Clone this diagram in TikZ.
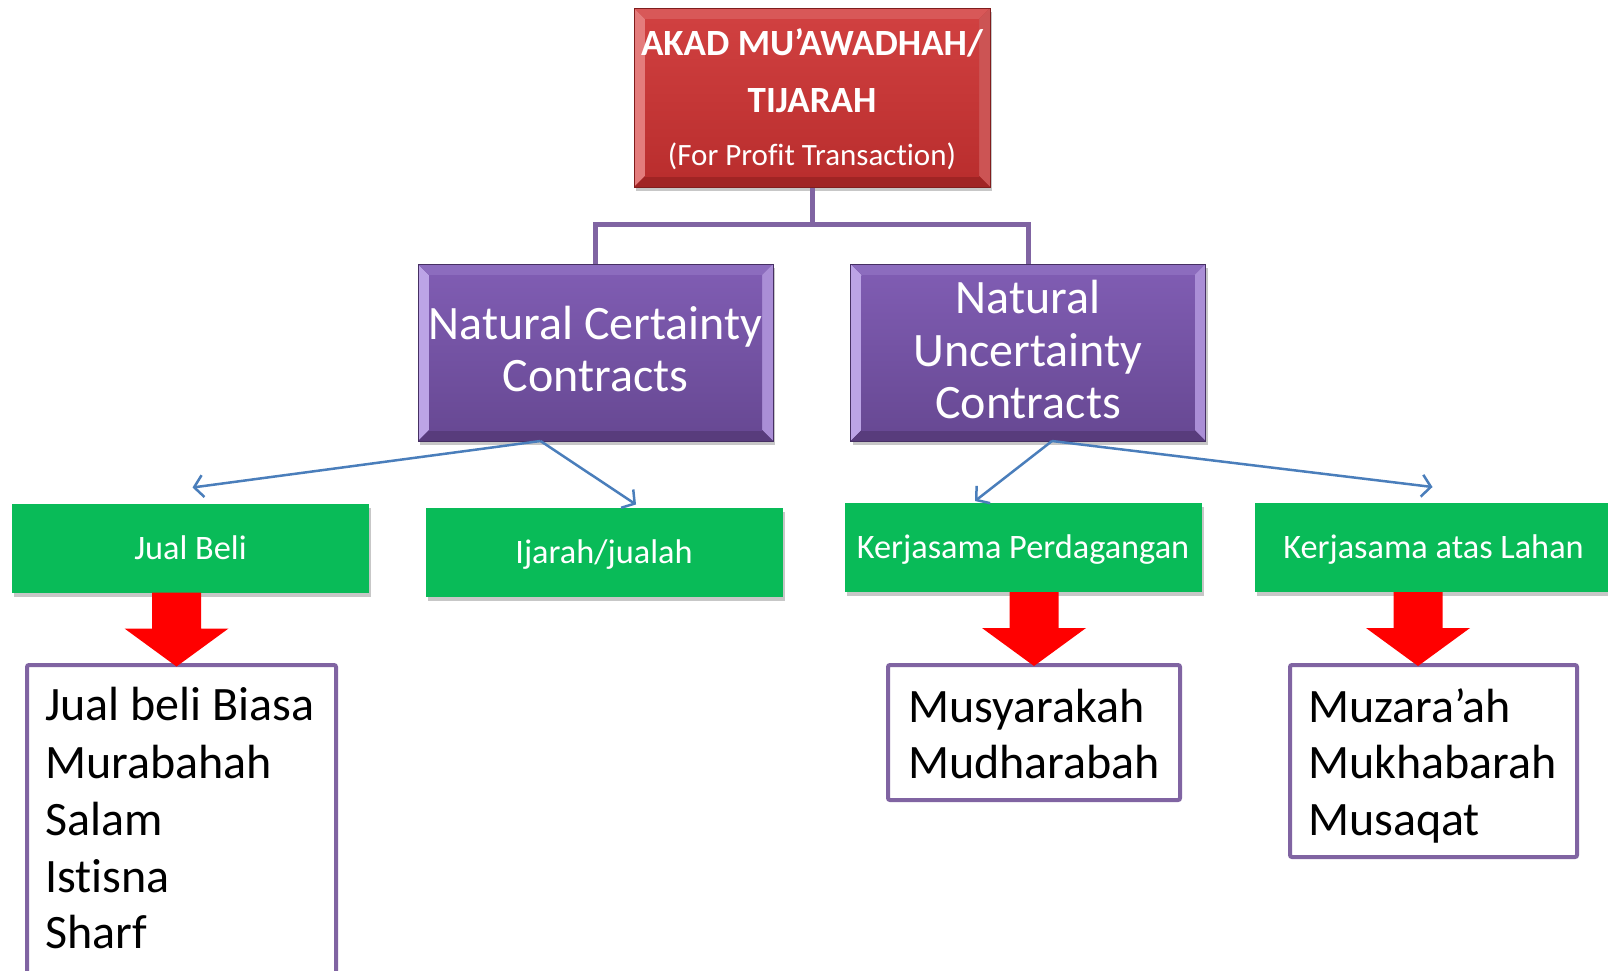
\documentclass[tikz,border=0pt]{standalone}
\usepackage{fontspec}
\setmainfont{Carlito}[Ligatures=NoCommon]
\usetikzlibrary{arrows.meta,calc,shadows}

% palette
\definecolor{linkpurple}{RGB}{128,100,162}
\definecolor{arrowblue}{RGB}{74,126,187}
\definecolor{leafgreen}{RGB}{9,187,88}
\definecolor{blockred}{RGB}{255,0,0}
% red heading box
\definecolor{rfacetop}{RGB}{208,64,64}
\definecolor{rfacebot}{RGB}{186,46,46}
\definecolor{redge}{RGB}{140,28,28}
\definecolor{rlight}{RGB}{228,124,124}
\definecolor{rtop}{RGB}{216,88,88}
\definecolor{rright}{RGB}{204,84,84}
\definecolor{rbottom}{RGB}{160,36,36}
% purple category boxes
\definecolor{pfacetop}{RGB}{127,92,178}
\definecolor{pfacebot}{RGB}{104,73,148}
\definecolor{pedge}{RGB}{72,48,108}
\definecolor{plight}{RGB}{188,164,230}
\definecolor{ptop}{RGB}{140,108,190}
\definecolor{pright}{RGB}{170,142,214}
\definecolor{pbottom}{RGB}{88,60,124}

% bevelled face over a rectangular node:
% #1 node, #2 bevel depth, #3 left, #4 top, #5 right, #6 bottom, #7 face top, #8 face bottom
\newcommand\bevelface[8]{%
  \fill[#3] (#1.north west) -- ($(#1.north west)+(#2,#2)$) -- ($(#1.south west)+(#2,-#2)$) -- (#1.south west) -- cycle;
  \fill[#4] (#1.north west) -- (#1.north east) -- ($(#1.north east)+(-#2,#2)$) -- ($(#1.north west)+(#2,#2)$) -- cycle;
  \fill[#5] (#1.north east) -- (#1.south east) -- ($(#1.south east)+(-#2,-#2)$) -- ($(#1.north east)+(-#2,#2)$) -- cycle;
  \fill[#6] (#1.south west) -- (#1.south east) -- ($(#1.south east)+(-#2,-#2)$) -- ($(#1.south west)+(#2,-#2)$) -- cycle;
  \shade[top color=#7, bottom color=#8] ($(#1.north west)+(#2,#2)$) rectangle ($(#1.south east)+(-#2,-#2)$);
  \draw[line width=1pt, #6!80!black] (#1.north west) rectangle (#1.south east);
}

% thick red block arrow hanging below a node: #1 node, #2 horizontal offset
\newcommand\redarrow[2]{%
  \fill[blockred] ($(#1.south)+(#2,0)$) ++(-24.5,0) -- ++(49,0) -- ++(0,36) -- ++(27.5,0)
    -- ++(-52,38) -- ++(-52,-38) -- ++(27.5,0) -- cycle;
}

\tikzset{
  boxshadow/.style={drop shadow={shadow xshift=2pt, shadow yshift=-4pt, opacity=0.22, fill=black}},
  plainbox/.style={rectangle, outer sep=0pt, inner sep=0pt},
  headbox/.style={plainbox, fill=rfacebot, minimum width=356pt, minimum height=179pt, boxshadow},
  catbox/.style={plainbox, fill=pfacebot, minimum width=355pt, minimum height=177pt, boxshadow},
  leafbox/.style={plainbox, fill=leafgreen, minimum width=357pt, minimum height=89pt,
    text=white, font=\fontsize{34.3}{41}\selectfont, text height=22pt, text depth=0pt, boxshadow},
  listbox/.style={plainbox, draw=linkpurple, line width=4pt, rounded corners=2pt, fill=white, anchor=north west},
  headline/.style={inner sep=0pt, anchor=base, text=white, font=\fontsize{37}{44}\selectfont\bfseries},
  headsub/.style={inner sep=0pt, anchor=base, text=white, font=\fontsize{31}{37}\selectfont},
  catline/.style={inner sep=0pt, anchor=base, text=white, font=\fontsize{48}{56}\selectfont},
  listline/.style={inner sep=0pt, anchor=base west, text=black, font=\fontsize{48}{56}\selectfont},
  treelink/.style={draw=linkpurple, line width=5pt},
  bluelink/.style={draw=arrowblue, line width=2.5pt, -{Straight Barb[length=9pt,width=22pt]}},
}

\begin{document}
\begin{tikzpicture}[x=1pt, y=-1pt]
\useasboundingbox (0,0) rectangle (1608,970);
\clip (0,0) rectangle (1608,970);
\fill[white] (0,0) rectangle (1608,970);

% heading and its two categories
\node[headbox] (top) at (812,97.5) {};
\node[catbox] (pc) at (595.5,352.5) {};
\node[catbox] (pu) at (1028,352.5) {};

% tree connectors
\coordinate (fork) at (812,224);
\draw[treelink] (top.south) -- (fork);
\draw[treelink] (fork) -| (pc.north);
\draw[treelink] (fork) -| (pu.north);

\bevelface{top}{11}{rlight}{rtop}{rright}{rbottom}{rfacetop}{rfacebot}
\bevelface{pc}{11}{plight}{ptop}{pright}{pbottom}{pfacetop}{pfacebot}
\bevelface{pu}{11}{plight}{ptop}{pright}{pbottom}{pfacetop}{pfacebot}

\node[headline] (t1) at (812,55) {AKAD MU’AWADHAH/};
\node[headline] (t2) at (812,112) {TIJARAH};
\node[headsub] (t3) at (812,165) {(For Profit Transaction)};

\node[catline] (c1) at (595.5,339) {Natural Certainty};
\node[catline] (c2) at (595.5,391) {Contracts};
\node[catline] (u1) at (1028,313) {Natural};
\node[catline] (u2) at (1028,366) {Uncertainty};
\node[catline] (u3) at (1028,418) {Contracts};

% contract families
\node[leafbox] (jb) at (190.5,548) {Jual Beli};
\node[leafbox] (ij) at (604,552) {Ijarah/jualah};
\node[leafbox] (kp) at (1023,547.5) {Kerjasama Perdagangan};
\node[leafbox] (kl) at (1433.5,547.5) {Kerjasama atas Lahan};

% category to family arrows
\coordinate (pcfoot) at ($(pc.south)+(-55,0)$);
\coordinate (pufoot) at ($(pu.south)+(24,0)$);
\draw[bluelink] (pcfoot) -- ($(jb.north)+(2,-16)$);
\draw[bluelink] (pcfoot) -- ($(ij.north)+(32,-3)$);
\draw[bluelink] (pufoot) -- ($(kp.north)+(-48,-2)$);
\draw[bluelink] (pufoot) -- ($(kl.north)+(-1,-16)$);

% contract lists
\node[listbox, minimum width=309pt, minimum height=400pt] (la) at (27,665) {};
\node[listbox, minimum width=292pt, minimum height=135pt] (lb) at (888,665) {};
\node[listbox, minimum width=287pt, minimum height=192pt] (lc) at (1290,665) {};

\redarrow{jb}{-14}
\redarrow{kp}{11}
\redarrow{kl}{-15.5}

\node[listline] (a1) at (45,720) {Jual beli Biasa};
\node[listline] (a2) at (45,778) {Murabahah};
\node[listline] (a3) at (45,835) {Salam};
\node[listline] (a4) at (45,892) {Istisna};
\node[listline] (a5) at (45,948) {Sharf};

\node[listline] (b1) at (908,722) {Musyarakah};
\node[listline] (b2) at (908,778) {Mudharabah};

\node[listline] (d1) at (1308,722) {Muzara’ah};
\node[listline] (d2) at (1308,778) {Mukhabarah};
\node[listline] (d3) at (1308,835) {Musaqat};
\end{tikzpicture}
\end{document}
